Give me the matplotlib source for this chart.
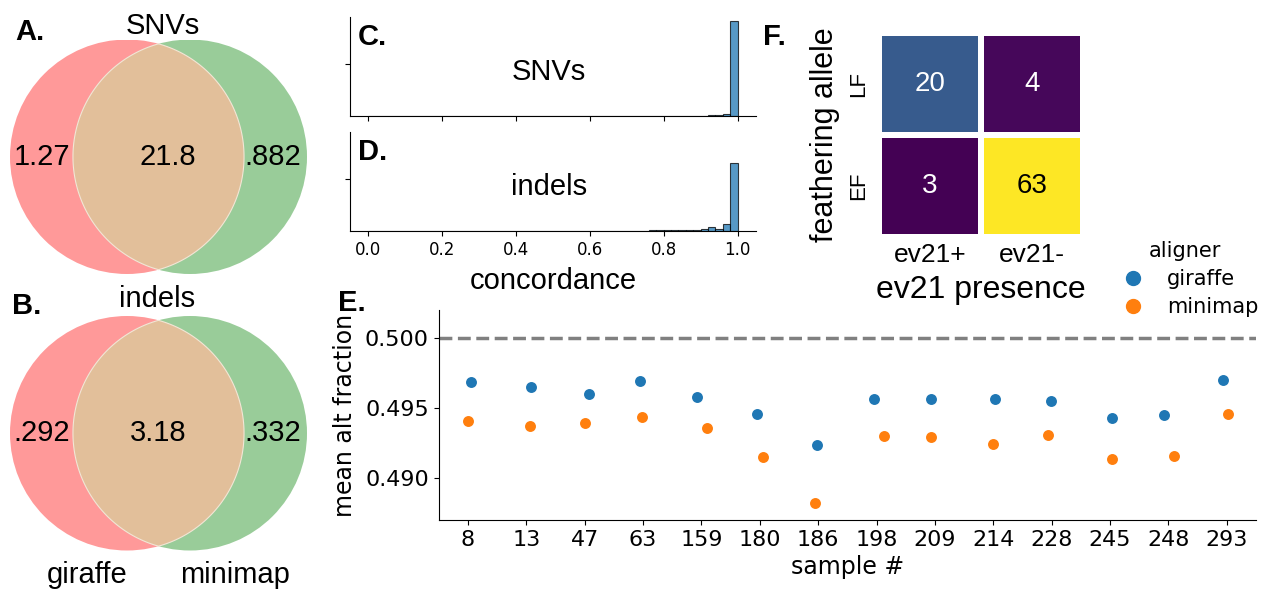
import matplotlib
matplotlib.use("Agg")
import matplotlib.pyplot as plt
import numpy as np
from matplotlib.patches import Circle, Polygon
from matplotlib.lines import Line2D

plt.rcParams["font.family"] = "DejaVu Sans"

W, H = 1262, 590
SANS = "Liberation Sans"

# A / B: venn region sizes (left only, shared, right only)
venn_sets = ["giraffe", "minimap"]
snv_regions = ["1.27", "21.8", ".882"]
indel_regions = [".292", "3.18", ".332"]

# C / D: concordance histograms, fraction of sites per 0.02 bin (0.00 .. 1.00)
snv_hist = [
    0.0003, 0.0003, 0.0003, 0.0003, 0.0003, 0.0003, 0.0003, 0.0003, 0.0003, 0.0003,
    0.0003, 0.0003, 0.0003, 0.0003, 0.0003, 0.0003, 0.0003, 0.0003, 0.0003, 0.0003,
    0.0003, 0.0003, 0.0003, 0.0003, 0.0003, 0.0004, 0.0004, 0.0004, 0.0004, 0.0005,
    0.0005, 0.0005, 0.0006, 0.0006, 0.0007, 0.0007, 0.0008, 0.0008, 0.0009, 0.0010,
    0.0010, 0.0012, 0.0015, 0.0018, 0.0020, 0.0030, 0.0050, 0.0080, 0.0200, 0.9150,
]
indel_hist = [
    0.0010, 0.0008, 0.0008, 0.0008, 0.0008, 0.0008, 0.0008, 0.0008, 0.0008, 0.0008,
    0.0010, 0.0010, 0.0010, 0.0010, 0.0010, 0.0010, 0.0010, 0.0012, 0.0012, 0.0012,
    0.0015, 0.0015, 0.0015, 0.0015, 0.0018, 0.0020, 0.0020, 0.0020, 0.0025, 0.0025,
    0.0030, 0.0030, 0.0035, 0.0035, 0.0040, 0.0040, 0.0045, 0.0045, 0.0050, 0.0050,
    0.0100, 0.0100, 0.0130, 0.0130, 0.0130, 0.0190, 0.0360, 0.0220, 0.0650, 0.6600,
]
bin_edges = np.linspace(0, 1, len(snv_hist) + 1)

# E: mean alt allele fraction per sample
samples = ["8", "13", "47", "63", "159", "180", "186", "198", "209", "214",
           "228", "245", "248", "293"]
giraffe_frac = [0.49688, 0.49652, 0.49602, 0.49690, 0.49579, 0.49455, 0.49236,
                0.49567, 0.49567, 0.49567, 0.49550, 0.49426, 0.49452, 0.49698]
minimap_frac = [0.49409, 0.49374, 0.49390, 0.49436, 0.49357, 0.49148, 0.48819,
                0.49302, 0.49290, 0.49243, 0.49307, 0.49138, 0.49155, 0.49455]
giraffe_jitter = [0.06, 0.08, 0.07, -0.06, -0.07, -0.05, -0.02, -0.04, -0.06,
                  0.03, -0.02, 0.04, -0.08, -0.06]
minimap_jitter = [0.01, 0.07, 0.0, -0.01, 0.09, 0.06, -0.06, 0.12, -0.06, 0.0,
                  -0.06, 0.04, 0.09, 0.02]

# F: feathering allele vs ev21 presence
feather_rows = ["LF", "EF"]
ev21_cols = ["ev21+", "ev21-"]
counts = np.array([[20, 4], [3, 63]])


def box(l, t, r, b):
    return [l / W, 1 - b / H, (r - l) / W, (b - t) / H]


def ftext(x, y, s, **kw):
    fig.text(x / W, 1 - y / H, s, **kw)


fig = plt.figure(figsize=(W / 100, H / 100), dpi=100)

# ---- venn diagrams
d = 0.269
th = np.arccos(d)
t1 = np.linspace(-th, th, 100)
t2 = np.linspace(np.pi - th, np.pi + th, 100)
lens = np.vstack([np.c_[-d + np.cos(t1), np.sin(t1)],
                  np.c_[d + np.cos(t2), np.sin(t2)]])

for top, labels in [(39.5, snv_regions), (316, indel_regions)]:
    ax = fig.add_axes(box(10, top, 307, top + 234.5))
    ax.add_patch(Circle((-d, 0), 1, fc="#ff9999", ec="none"))
    ax.add_patch(Circle((d, 0), 1, fc="#99cc99", ec="none"))
    ax.add_patch(Polygon(lens, closed=True, fc="#e2bf9a", ec="#f3e6d6", lw=0.8))
    xs = [-0.995, 0.081 if labels is snv_regions else 0.0, 0.979]
    for x, lab in zip(xs, labels):
        ax.text(x, 0, lab, ha="center", va="center", fontsize=21, fontfamily=SANS)
    ax.set_xlim(-1 - d, 1 + d)
    ax.set_ylim(-1, 1)
    ax.axis("off")

ftext(163, 26, "SNVs", ha="center", va="center", fontsize=21, fontfamily=SANS)
ftext(157, 299, "indels", ha="center", va="center", fontsize=21, fontfamily=SANS)
ftext(15, 32, "A.", ha="left", va="center", fontsize=21, fontfamily=SANS, fontweight="bold")
ftext(12, 306, "B.", ha="left", va="center", fontsize=21, fontfamily=SANS, fontweight="bold")
ftext(87, 575, venn_sets[0], ha="center", va="center", fontsize=21, fontfamily=SANS)
ftext(235, 575, venn_sets[1], ha="center", va="center", fontsize=21, fontfamily=SANS)

# ---- concordance histograms
ax_c = fig.add_axes(box(350, 16.7, 756, 116))
ax_d = fig.add_axes(box(350, 131.7, 756, 231), sharex=ax_c, sharey=ax_c)
for ax, hist, name, letter in [(ax_c, snv_hist, "SNVs", "C."), (ax_d, indel_hist, "indels", "D.")]:
    ax.bar(bin_edges[:-1], hist, width=0.02, align="edge", color="#1f77b4", alpha=0.75,
           edgecolor="black", linewidth=0.8)
    ax.spines[["top", "right"]].set_visible(False)
    ax.set_yticks([0.5])
    ax.set_yticklabels([""])
    ax.text(0.02, 0.8, letter, transform=ax.transAxes, fontsize=21, fontfamily=SANS,
            fontweight="bold", va="center")
    ax.text(0.49, 0.443, name, transform=ax.transAxes, fontsize=21, fontfamily=SANS,
            ha="center", va="center")
ax_c.set_xlim(-0.05, 1.05)
ax_c.set_ylim(0, 0.96)
ax_c.tick_params(axis="x", labelbottom=False)
ax_d.set_xticks([0.0, 0.2, 0.4, 0.6, 0.8, 1.0])
ax_d.tick_params(axis="x", labelsize=12)
ax_d.set_xlabel("concordance", fontsize=21, fontfamily=SANS, labelpad=6)

# ---- heatmap
ax_f = fig.add_axes(box(879, 33, 1083, 237))
ax_f.pcolormesh(counts, cmap="viridis", vmin=counts.min(), vmax=counts.max(),
                edgecolors="white", linewidth=4.3)
ax_f.set_xlim(0, 2)
ax_f.set_ylim(2, 0)
for i in range(2):
    for j in range(2):
        v = counts[i, j]
        ax_f.text(j + 0.5, i + 0.5, str(v), ha="center", va="center", fontsize=20,
                  fontfamily=SANS, color="black" if v > 40 else "white")
for s in ax_f.spines.values():
    s.set_visible(False)
ax_f.set_xticks([0.5, 1.5])
ax_f.set_xticklabels(ev21_cols, fontsize=19, fontfamily=SANS)
ax_f.set_yticks([0.5, 1.5])
ax_f.set_yticklabels(feather_rows, fontsize=16, fontfamily=SANS, rotation=90, va="center")
ax_f.tick_params(length=0)
ax_f.tick_params(axis="x", pad=4)
ax_f.tick_params(axis="y", pad=7)
ax_f.set_xlabel("ev21 presence", fontsize=23, fontfamily=SANS, labelpad=6)
ax_f.set_ylabel("feathering allele", fontsize=22, fontfamily=SANS, labelpad=6)
ftext(763, 37, "F.", ha="left", va="center", fontsize=21, fontfamily=SANS, fontweight="bold")

# ---- alt fraction per sample
ax_e = fig.add_axes(box(438.7, 310, 1256, 520))
xpos = np.arange(len(samples))
ax_e.axhline(0.5, color="gray", ls="--", lw=2.5, zorder=0)
ax_e.scatter(xpos + np.array(giraffe_jitter), giraffe_frac, s=62, color="#1f77b4",
             lw=0, zorder=3)
ax_e.scatter(xpos + np.array(minimap_jitter), minimap_frac, s=62, color="#ff7f0e",
             lw=0, zorder=3)
ax_e.set_xlim(-0.5, len(samples) - 0.5)
ax_e.set_ylim(0.487, 0.502)
ax_e.set_xticks(xpos)
ax_e.set_xticklabels(samples)
ax_e.set_yticks([0.490, 0.495, 0.500])
ax_e.yaxis.set_major_formatter(matplotlib.ticker.FormatStrFormatter("%.3f"))
ax_e.tick_params(labelsize=16)
ax_e.spines[["top", "right"]].set_visible(False)
ax_e.set_xlabel("sample #", fontsize=17)
ax_e.set_ylabel("mean alt fraction", fontsize=17, labelpad=6)
ftext(338, 303, "E.", ha="left", va="center", fontsize=21, fontfamily=SANS, fontweight="bold")

handles = [Line2D([], [], ls="", marker="o", ms=10, mfc=c, mec=c) for c in ["#1f77b4", "#ff7f0e"]]
fig.legend(handles, venn_sets, title="aligner", loc="upper left", frameon=False,
           bbox_to_anchor=(1098 / W, 1 - 226 / H), fontsize=15, title_fontsize=15,
           handletextpad=0.6, labelspacing=0.4, borderpad=0.2)

fig.savefig("out.png", dpi=100)
